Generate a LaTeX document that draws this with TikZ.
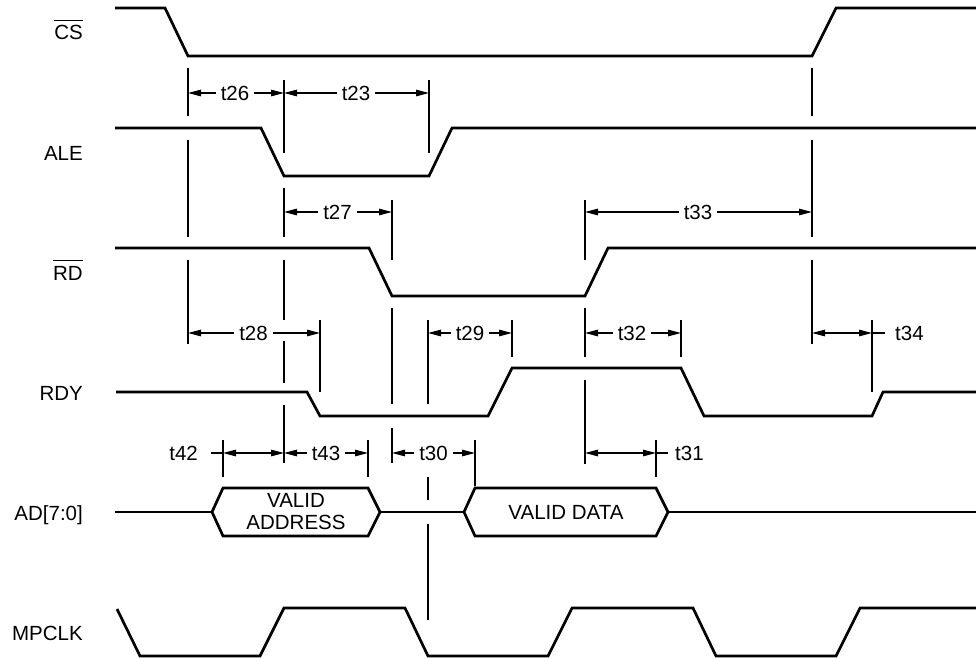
\documentclass[tikz,border=0pt]{standalone}
\usepackage{fontspec}
\setmainfont{Liberation Sans}
\usetikzlibrary{arrows.meta}
\tikzset{
  sig/.style={line width=2.7pt, line join=miter, line cap=butt},
  vmark/.style={line width=1.6pt},
  dimline/.style={line width=1.3pt, {Triangle[length=13pt,width=6.5pt]}-{Triangle[length=13pt,width=6.5pt]}},
  stub/.style={line width=1.3pt},
  lbl/.style={font=\fontsize{20.5}{24}\selectfont, inner sep=0pt},
  tlbl/.style={font=\fontsize{20.5}{24}\selectfont, fill=white, inner xsep=5pt, inner ysep=0pt},
}
\begin{document}
\begin{tikzpicture}[x=1pt,y=-1pt]
\useasboundingbox (0,0) rectangle (976,658);
% signal names
\node[lbl, anchor=base east] (ncs) at (83,40) {CS};
\draw[line width=1.4pt] ([yshift=5pt]ncs.north west) -- ([yshift=5pt]ncs.north east);
\node[lbl, anchor=base east] (nale) at (83,160) {ALE};
\node[lbl, anchor=base east] (nrd) at (83,280) {RD};
\draw[line width=1.4pt] ([yshift=5pt]nrd.north west) -- ([yshift=5pt]nrd.north east);
\node[lbl, anchor=base east] (nrdy) at (83,400) {RDY};
\node[lbl, anchor=base east] (nad) at (83,520) {AD[7:0]};
\node[lbl, anchor=base east] (nclk) at (83,640) {MPCLK};

% waveforms
\draw[sig] (115,8) -- (165,8) -- (188,56) -- (812,56) -- (836,8) -- (976,8);
\draw[sig] (115,128) -- (261,128) -- (284,176) -- (429,176) -- (452,128) -- (976,128);
\draw[sig] (115,248) -- (369,248) -- (392,296) -- (585,296) -- (608,248) -- (976,248);
\draw[sig] (116,392) -- (307,392) -- (320,416) -- (488,416) -- (512,368) -- (681,368) -- (704,416) -- (872,416) -- (883,392) -- (976,392);
\draw[sig] (115,512) -- (212,512);
\draw[sig] (212,512) -- (223,488) -- (368,488) -- (380,512) -- (368,536) -- (223,536) -- cycle;
\draw[sig] (380,512) -- (464,512);
\draw[sig] (464,512) -- (475,488) -- (656,488) -- (668,512) -- (656,536) -- (475,536) -- cycle;
\draw[sig] (668,512) -- (976,512);
\draw[sig] (117,609) -- (140,656) -- (260,656) -- (284,608) -- (405,608) -- (428,656) -- (548,656) -- (572,608) -- (693,608) -- (716,656) -- (836,656) -- (860,608) -- (976,608);

\node[lbl, anchor=base] (va1) at (296,507) {VALID};
\node[lbl, anchor=base] (va2) at (296,529) {ADDRESS};
\node[lbl, anchor=base] (vd) at (566,519) {VALID DATA};

% vertical markers
\draw[vmark] (188,68) -- (188,116) (188,140) -- (188,237) (188,260) -- (188,344);
\draw[vmark] (284,80) -- (284,153) (284,188) -- (284,237) (284,260) -- (284,320) (284,341) -- (284,383) (284,405) -- (284,463);
\draw[vmark] (429,80) -- (429,153);
\draw[vmark] (392,200) -- (392,260) (392,308) -- (392,404) (392,428) -- (392,463);
\draw[vmark] (320,320) -- (320,392);
\draw[vmark] (428,320) -- (428,404);
\draw[vmark] (512,320) -- (512,357);
\draw[vmark] (585,200) -- (585,260) (585,308) -- (585,357) (585,380) -- (585,464);
\draw[vmark] (681,320) -- (681,357);
\draw[vmark] (812,68) -- (812,116) (812,140) -- (812,237) (812,260) -- (812,344);
\draw[vmark] (872,320) -- (872,392);
\draw[vmark] (223,440) -- (223,477);
\draw[vmark] (368,440) -- (368,477);
\draw[vmark] (475,440) -- (475,486);
\draw[vmark] (656,440) -- (656,477);
\draw[vmark] (428,477) -- (428,500) (428,524) -- (428,620);

% dimension arrows
\draw[dimline] (188,93) -- (284,93);
\node[tlbl] (t26) at (235,93) {t26};
\draw[dimline] (284,93) -- (429,93);
\node[tlbl] (t23) at (356,93) {t23};
\draw[dimline] (284,212) -- (392,212);
\node[tlbl] (t27) at (337.5,212) {t27};
\draw[dimline] (585,212) -- (812,212);
\node[tlbl] (t33) at (698,212) {t33};
\draw[dimline] (188,333) -- (320,333);
\node[tlbl] (t28) at (253.5,333) {t28};
\draw[dimline] (428,333) -- (512,333);
\node[tlbl] (t29) at (470,333) {t29};
\draw[dimline] (585,333) -- (681,333);
\node[tlbl] (t32) at (632,333) {t32};
\draw[dimline] (812,333) -- (872,333);
\draw[stub] (872,333) -- (885,333);
\node[lbl, anchor=west] (t34) at (895,333) {t34};
\draw[stub] (211,453) -- (223,453);
\node[lbl, anchor=east] (t42) at (198,453) {t42};
\draw[dimline] (223,453) -- (284,453);
\draw[dimline] (284,453) -- (368,453);
\node[tlbl] (t43) at (326,453) {t43};
\draw[dimline] (392,453) -- (475,453);
\node[tlbl] (t30) at (433.5,453) {t30};
\draw[dimline] (585,453) -- (656,453);
\draw[stub] (656,453) -- (668,453);
\node[lbl, anchor=west] (t31) at (675,453) {t31};
\end{tikzpicture}
\end{document}
